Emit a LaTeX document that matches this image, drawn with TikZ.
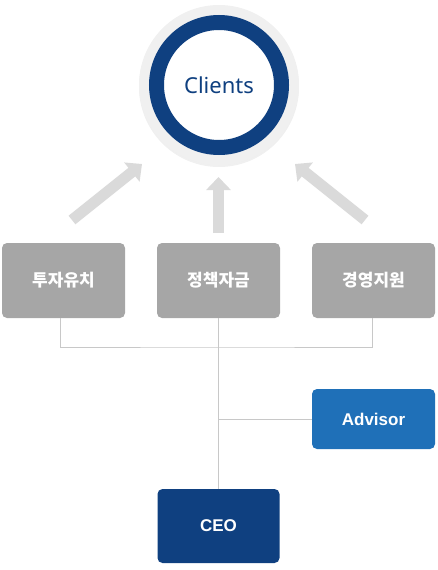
\documentclass[tikz,border=0pt]{standalone}
\usepackage{fontspec}
\setmainfont{Noto Sans}
\newfontfamily\lab{Liberation Sans}
\newfontfamily\kr{Noto Sans CJK KR}
\usetikzlibrary{arrows.meta,shadows}
\definecolor{navy}{RGB}{15,64,128}
\definecolor{advblue}{RGB}{31,112,184}
\definecolor{boxgray}{RGB}{166,166,166}
\definecolor{arrowgray}{RGB}{218,218,218}
\definecolor{linegray}{RGB}{200,200,200}
\definecolor{halo}{RGB}{240,240,240}

\begin{document}
\begin{tikzpicture}[x=1pt,y=-1pt,
	box/.style={rounded corners=5pt, minimum width=123pt, minimum height=75pt, inner sep=0pt, text=white},
	gbox/.style={box, fill=boxgray, font=\kr\bfseries\fontsize{17}{19}\selectfont},
	link/.style={draw=linegray, line width=1pt},
	fat/.style={draw=arrowgray, line width=11pt, -{Triangle[width=24pt,length=13pt]}}]
		\useasboundingbox (0,0) rectangle (437,570);
		\node[circle, fill=halo, minimum size=160pt, inner sep=0pt,
			drop shadow={opacity=0.12, shadow xshift=0pt, shadow yshift=-2pt}] (halo) at (219,85) {};
		\node[circle, draw=navy, line width=15pt, fill=white, minimum size=125pt, inner sep=0pt,
			text=navy, font=\fontsize{22}{24}\selectfont] (clients) at (219,85) {Clients};
		\node[gbox] (invest) at (63.5,280.5) {투자유치};
		\node[gbox] (policy) at (218.5,280.5) {정책자금};
		\node[gbox] (support) at (373.5,280.5) {경영지원};
		\node[box, fill=advblue, minimum height=60pt, font=\lab\bfseries\fontsize{17}{19}\selectfont] (advisor) at (373.5,419) {Advisor};
		\node[box, fill=navy, minimum width=122pt, minimum height=74pt, font=\lab\bfseries\fontsize{17}{19}\selectfont] (ceo) at (218.5,526) {CEO};
		\coordinate (hub) at (218.5,347);
		\coordinate (tailL) at (72,220);
		\coordinate (tipL) at (142,164);
		\coordinate (tailM) at (218.5,233);
		\coordinate (tipM) at (218.5,177);
		\coordinate (tailR) at (365,220);
		\coordinate (tipR) at (295,164);
		\draw[fat] (tailL) -- (tipL);
		\draw[fat] (tailM) -- (tipM);
		\draw[fat] (tailR) -- (tipR);
		\draw[link] ([xshift=-3pt]invest.south) |- (hub) -| ([xshift=-1pt]support.south);
		\draw[link] (policy.south) -- (ceo.north);
		\draw[link] (advisor.west) -- (advisor.west -| ceo.north);
	\end{tikzpicture}
\end{document}
